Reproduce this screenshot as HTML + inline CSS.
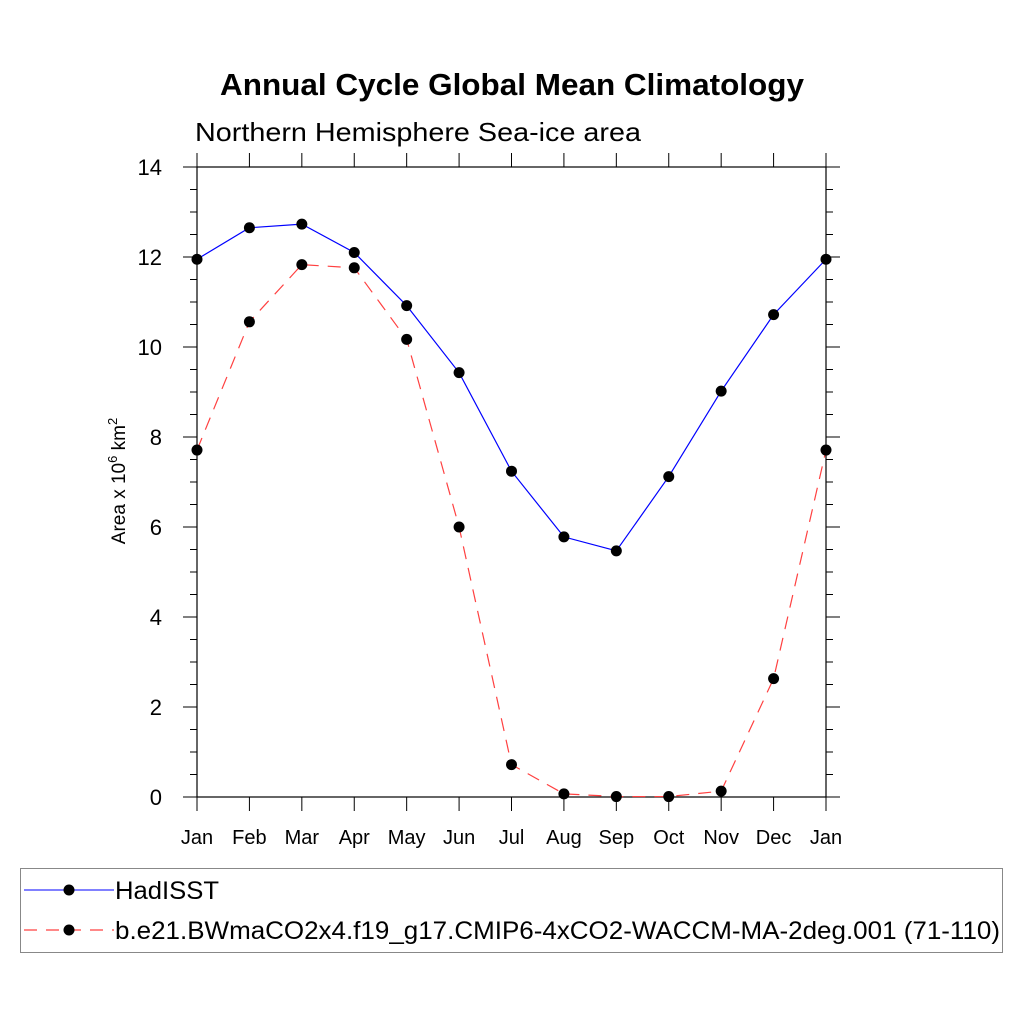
<!DOCTYPE html>
<html><head><meta charset="utf-8"><style>body{margin:0;background:#fff}svg{display:block;font-family:"Liberation Sans",sans-serif}</style></head>
<body>
<svg id="c" width="1024" height="1024">
<text x="220" y="95" textLength="584" lengthAdjust="spacingAndGlyphs" font-size="31" font-weight="bold">Annual Cycle Global Mean Climatology</text>
<text x="195" y="141" textLength="446" lengthAdjust="spacingAndGlyphs" font-size="26">Northern Hemisphere Sea-ice area</text>
<text transform="translate(125,481) rotate(-90)" text-anchor="middle" font-size="19">Area x 10<tspan dy="-8" font-size="13">6</tspan><tspan dy="8"> km</tspan><tspan dy="-8" font-size="13">2</tspan></text>
<g id="axes"></g><g id="series"></g>
<rect x="20.5" y="868.5" width="982" height="84" fill="none" stroke="#888"/>
<g><line x1="24" y1="890" x2="114" y2="890" stroke="#0000ff" stroke-width="1"/><circle cx="69" cy="890" r="5.5"/><text x="115" y="899" font-size="25" textLength="104" lengthAdjust="spacingAndGlyphs">HadISST</text></g>
<g><line x1="24" y1="930" x2="114" y2="930" stroke="#ff4040" stroke-width="1.2" stroke-dasharray="13,9"/><circle cx="69" cy="930" r="5.5"/><text x="115" y="939" font-size="25" textLength="885" lengthAdjust="spacingAndGlyphs">b.e21.BWmaCO2x4.f19_g17.CMIP6-4xCO2-WACCM-MA-2deg.001 (71-110)</text></g>
</svg>
<script>
const months=["Jan","Feb","Mar","Apr","May","Jun","Jul","Aug","Sep","Oct","Nov","Dec","Jan"];
const hadisst=[11.95,12.65,12.73,12.1,10.92,9.43,7.24,5.78,5.47,7.12,9.02,10.72,11.95];
const model=[7.71,10.56,11.83,11.76,10.17,6.0,0.72,0.07,0.01,0.01,0.13,2.63,7.71];
const yTicks=[0,2,4,6,8,10,12,14];
const NS="http://www.w3.org/2000/svg";
const X0=197,X1=826,Y0=797,Y1=167;
const xs=i=>X0+(X1-X0)*i/12, ys=v=>Y0-(Y0-Y1)*v/14;
function mk(t,a,p){const e=document.createElementNS(NS,t);for(const k in a)e.setAttribute(k,a[k]);p.appendChild(e);return e;}
const ax=document.getElementById('axes');
let r=mk('rect',{x:X0,y:Y1,width:X1-X0,height:Y0-Y1,fill:'none',stroke:'#000','stroke-width':1.2},ax);


for(let v=0;v<=14.001;v+=0.5){const y=ys(v),maj=Math.abs(v-Math.round(v/2)*2)<1e-6,L=maj?14:7;
 mk('line',{x1:X0-L,y1:y,x2:X0,y2:y,stroke:'#000'},ax);mk('line',{x1:X1,y1:y,x2:X1+L,y2:y,stroke:'#000'},ax);}
yTicks.forEach(v=>{const t=mk('text',{x:X0-35,y:ys(v)+8,'text-anchor':'end','font-size':22},ax);t.textContent=v;
 
 });
months.forEach((m,i)=>{const x=xs(i);mk('line',{x1:x,y1:Y0,x2:x,y2:Y0+14,stroke:'#000'},ax);mk('line',{x1:x,y1:Y1-14,x2:x,y2:Y1,stroke:'#000'},ax);
 const t=mk('text',{x:x,y:Y0+47,'text-anchor':'middle','font-size':20},ax);t.textContent=m;
 
 });
const sg=document.getElementById('series');
function series(d,col,dash,name){const g=mk('g',{},sg);
 
 
 const a={points:d.map((v,i)=>xs(i)+','+ys(v)).join(' '),fill:'none',stroke:col,'stroke-width':1.2};if(dash)a['stroke-dasharray']=dash;mk('polyline',a,g);
 d.forEach((v,i)=>mk('circle',{cx:xs(i),cy:ys(v),r:5.5},g));}
series(model,'#ff4040','13,9','series-model');
series(hadisst,'#0000ff',null,'series-hadisst');
</script>
</body></html>
